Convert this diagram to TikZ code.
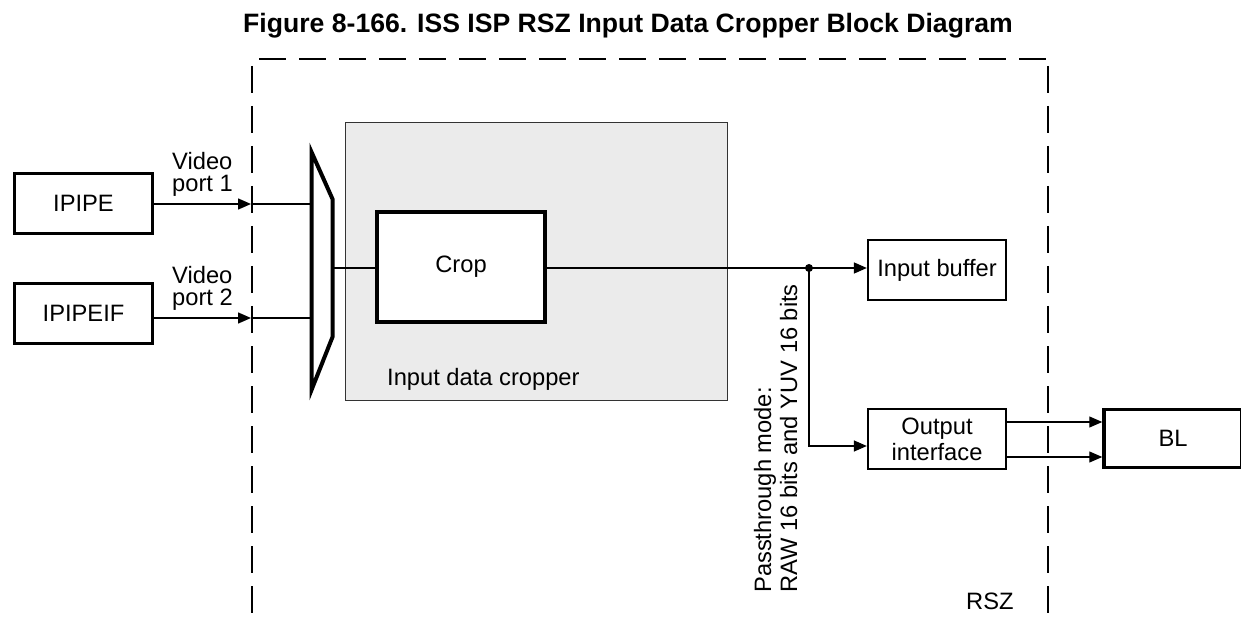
\documentclass[tikz,border=0pt]{standalone}
\usepackage{fontspec}
\setmainfont{Liberation Sans}
\usetikzlibrary{arrows.meta}

\begin{document}
\begin{tikzpicture}[x=1pt,y=-1pt,
  font=\fontsize{23.7}{26}\selectfont,
  >={Triangle[length=13pt,width=11pt]},
  box/.style={draw, line width=#1, inner sep=0, align=center, minimum width=138pt, minimum height=60pt},
  wire/.style={line width=1.3pt},
  rszline/.style={line width=2pt, dash pattern=on 27pt off 13pt}]
\useasboundingbox (0,0) rectangle (1241,617);

% title
\node[anchor=base west, inner sep=0, font=\fontsize{26.6}{30}\selectfont\bfseries] (title) at (243,33) {Figure 8-166. ISS ISP RSZ Input Data Cropper Block Diagram};

% RSZ boundary
\draw[rszline] (259,59) -- (1046,59);
\draw[rszline] (252,66) -- (252,617);
\draw[rszline] (1048,66) -- (1048,617);
\node[anchor=base west, inner sep=0] (rsz) at (966,609) {RSZ};

% sources
\node[box=3pt] (ipipe) at (83.5,203.5) {IPIPE};
\node[box=3pt] (ipipeif) at (83.5,313.5) {IPIPEIF};
\node[anchor=north west, inner sep=0, align=left, font=\fontsize{23.7}{22}\selectfont] (vp1) at (172,152.5) {Video\\port 1};
\node[anchor=north west, inner sep=0, align=left, font=\fontsize{23.7}{22}\selectfont] (vp2) at (172,266.5) {Video\\port 2};

% mux
\draw[line width=4pt] (311.5,152) -- (332.5,199) -- (332.5,337) -- (311.5,390) -- cycle;
\coordinate (p1) at (251,204);
\coordinate (p2) at (251,318);
\coordinate (m1) at (311.5,204);
\coordinate (m2) at (311.5,318);
\coordinate (mo) at (332.5,268);

\draw[->, line width=1.5pt] (ipipe.east |- p1) -- (p1);
\draw[->, line width=1.5pt] (ipipeif.east |- p2) -- (p2);
\draw[wire] (p1) -- (m1);
\draw[wire] (p2) -- (m2);

% cropper
\node[draw=black!80, fill=black!8, line width=1.5pt, minimum width=382pt, minimum height=278pt, inner sep=0] (cropper) at (536.5,261.5) {};
\node[anchor=base west, inner sep=0] (cropperlbl) at (387,385) {Input data cropper};
\node[box=4pt, fill=white, minimum width=168pt, minimum height=110pt] (crop) at (461,267) {Crop};
\draw[line width=1.6pt] (mo) -- (mo -| crop.west);

% outputs
\node[circle, fill, inner sep=0, minimum size=8pt] (dot) at (809,268) {};
\node[box=2.3pt] (inbuf) at (937,270) {Input buffer};
\node[box=2.3pt] (outif) at (937,439) {Output\\interface};
\node[box=3.5pt, minimum height=58pt] (bl) at (1173,438.5) {BL};

\draw[line width=2pt] (crop.east |- dot) -- (dot.center);
\draw[->, line width=1.6pt] (dot.center) -- (dot -| inbuf.west);
\draw[->, wire] (dot.center) |- ([yshift=-7pt]outif.west);
\draw[->, wire] ([yshift=17pt]outif.east) -- ([yshift=17pt]outif.east -| bl.west);
\draw[->, wire] ([yshift=-18pt]outif.east) -- ([yshift=-18pt]outif.east -| bl.west);

% passthrough label
\node[rotate=90, anchor=south west, inner sep=0, align=left] (pass) at (797.5,593) {Passthrough mode:\\RAW 16 bits and YUV 16 bits};
\end{tikzpicture}
\end{document}
